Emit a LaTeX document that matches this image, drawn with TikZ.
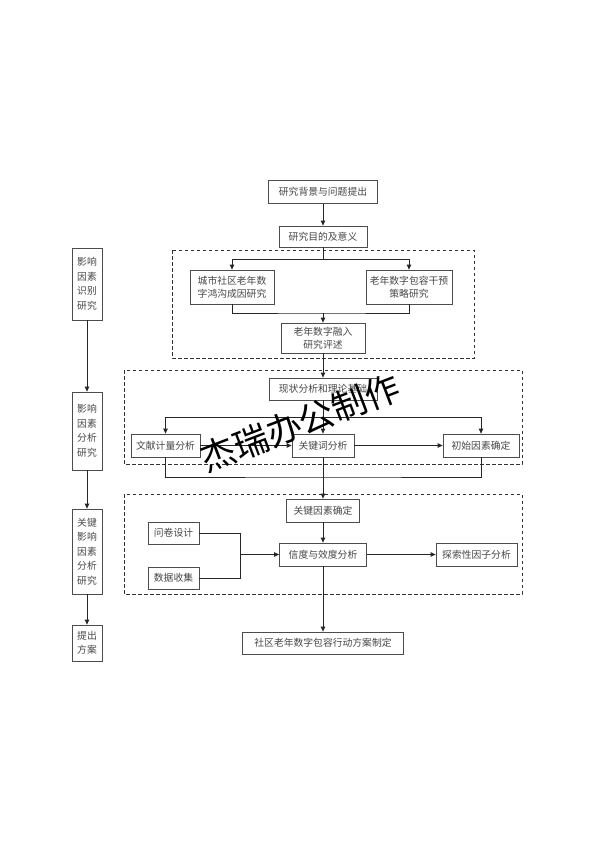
\documentclass[tikz,border=0pt]{standalone}
\usepackage{fontspec}
\setmainfont{Noto Sans CJK SC}
\usetikzlibrary{arrows.meta}
\begin{document}
\begin{tikzpicture}[x=1pt,y=-1pt,
  box/.style={draw=black!70,line width=0.8pt,text=black!72,inner sep=0pt,align=center,font=\fontsize{9.8}{12.8}\selectfont},
  sidebox/.style={box,font=\fontsize{9.8}{14.5}\selectfont},
  ln/.style={draw=black!85,line width=0.85pt},
  arr/.style={ln,-{Triangle[length=5pt,width=4.5pt]}},
  grp/.style={draw=black!80,line width=0.8pt,dash pattern=on 3.5pt off 2.5pt}
]
\useasboundingbox (0,0) rectangle (594,841);
\fill[white] (0,0) rectangle (594,841);

% dashed groups
\draw[grp] (172,250) rectangle (474,358);
\draw[grp] (124,370) rectangle (522,464);
\draw[grp] (124,494) rectangle (522,594);

% main nodes
\node[box,minimum width=109pt,minimum height=23pt] (bg) at (323,192) {研究背景与问题提出};
\node[box,minimum width=88pt,minimum height=21pt] (aim) at (323,236.5) {研究目的及意义};
\node[box,minimum width=84pt,minimum height=34pt] (cause) at (232,287) {城市社区老年数\\字鸿沟成因研究};
\node[box,minimum width=86pt,minimum height=34pt] (interv) at (409,287) {老年数字包容干预\\策略研究};
\node[box,minimum width=84pt,minimum height=30pt] (review) at (323,338) {老年数字融入\\研究评述};
\node[box,minimum width=108pt,minimum height=22pt] (stat) at (323,389) {现状分析和理论基础};
\node[box,minimum width=69pt,minimum height=23pt] (lit) at (165.5,445.5) {文献计量分析};
\node[box,minimum width=62pt,minimum height=23pt] (kw) at (323,445.5) {关键词分析};
\node[box,minimum width=76pt,minimum height=23pt] (init) at (481,445.5) {初始因素确定};
\node[box,minimum width=73pt,minimum height=23pt] (key) at (323,510.5) {关键因素确定};
\node[box,minimum width=51pt,minimum height=22pt] (q) at (173.5,533) {问卷设计};
\node[box,minimum width=51pt,minimum height=22pt] (d) at (173.5,578) {数据收集};
\node[box,minimum width=87pt,minimum height=23pt] (rel) at (323,554.5) {信度与效度分析};
\node[box,minimum width=81pt,minimum height=23pt] (efa) at (476.5,554.5) {探索性因子分析};
\node[box,minimum width=161pt,minimum height=22pt] (plan) at (323,643) {社区老年数字包容行动方案制定};

% side nodes
\node[sidebox,minimum width=30pt,minimum height=72pt] (L1) at (87,284) {影响\\因素\\识别\\研究};
\node[sidebox,minimum width=30pt,minimum height=78pt] (L2) at (87,431) {影响\\因素\\分析\\研究};
\node[sidebox,minimum width=30pt,minimum height=85pt] (L3) at (87,551.5) {关键\\影响\\因素\\分析\\研究};
\node[sidebox,minimum width=30pt,minimum height=36pt] (L4) at (87,643) {提出\\方案};

% connectors
\draw[arr] (bg) -- (aim);
\coordinate (s1) at (323,259);
\draw[ln] (aim.south) -- (s1);
\draw[arr] (s1) -| (cause.north);
\draw[arr] (s1) -| (interv.north);
\coordinate (m1) at (323,313);
\draw[ln] (cause.south) |- (m1) -| (interv.south);
\draw[arr] (m1) -- (review.north);
\draw[arr] (review) -- (stat);
\coordinate (s2) at (323,417);
\draw[arr] (stat.south) -- (kw.north);
\draw[arr] (s2) -| (lit.north);
\draw[arr] (s2) -| (init.north);
\draw[arr] (lit) -- (kw);
\draw[arr] (kw) -- (init);
\coordinate (m2) at (323,477);
\draw[ln] (lit.south) |- (m2) -| (init.south);
\draw[arr] (kw.south) -- (key.north);
\draw[arr] (key) -- (rel);
\coordinate (j) at (240,554.5);
\draw[ln] (q.east) -| (j);
\draw[ln] (d.east) -| (j);
\draw[arr] (j) -- (rel.west);
\draw[arr] (rel) -- (efa);
\draw[arr] (rel) -- (plan);
\draw[arr] (L1) -- (L2);
\draw[arr] (L2) -- (L3);
\draw[arr] (L3) -- (L4);

% watermark
\node[rotate=21,font=\fontsize{35}{35}\selectfont,text=black,inner sep=0pt] (wm) at (300,423) {杰瑞办公制作};
\end{tikzpicture}
\end{document}
